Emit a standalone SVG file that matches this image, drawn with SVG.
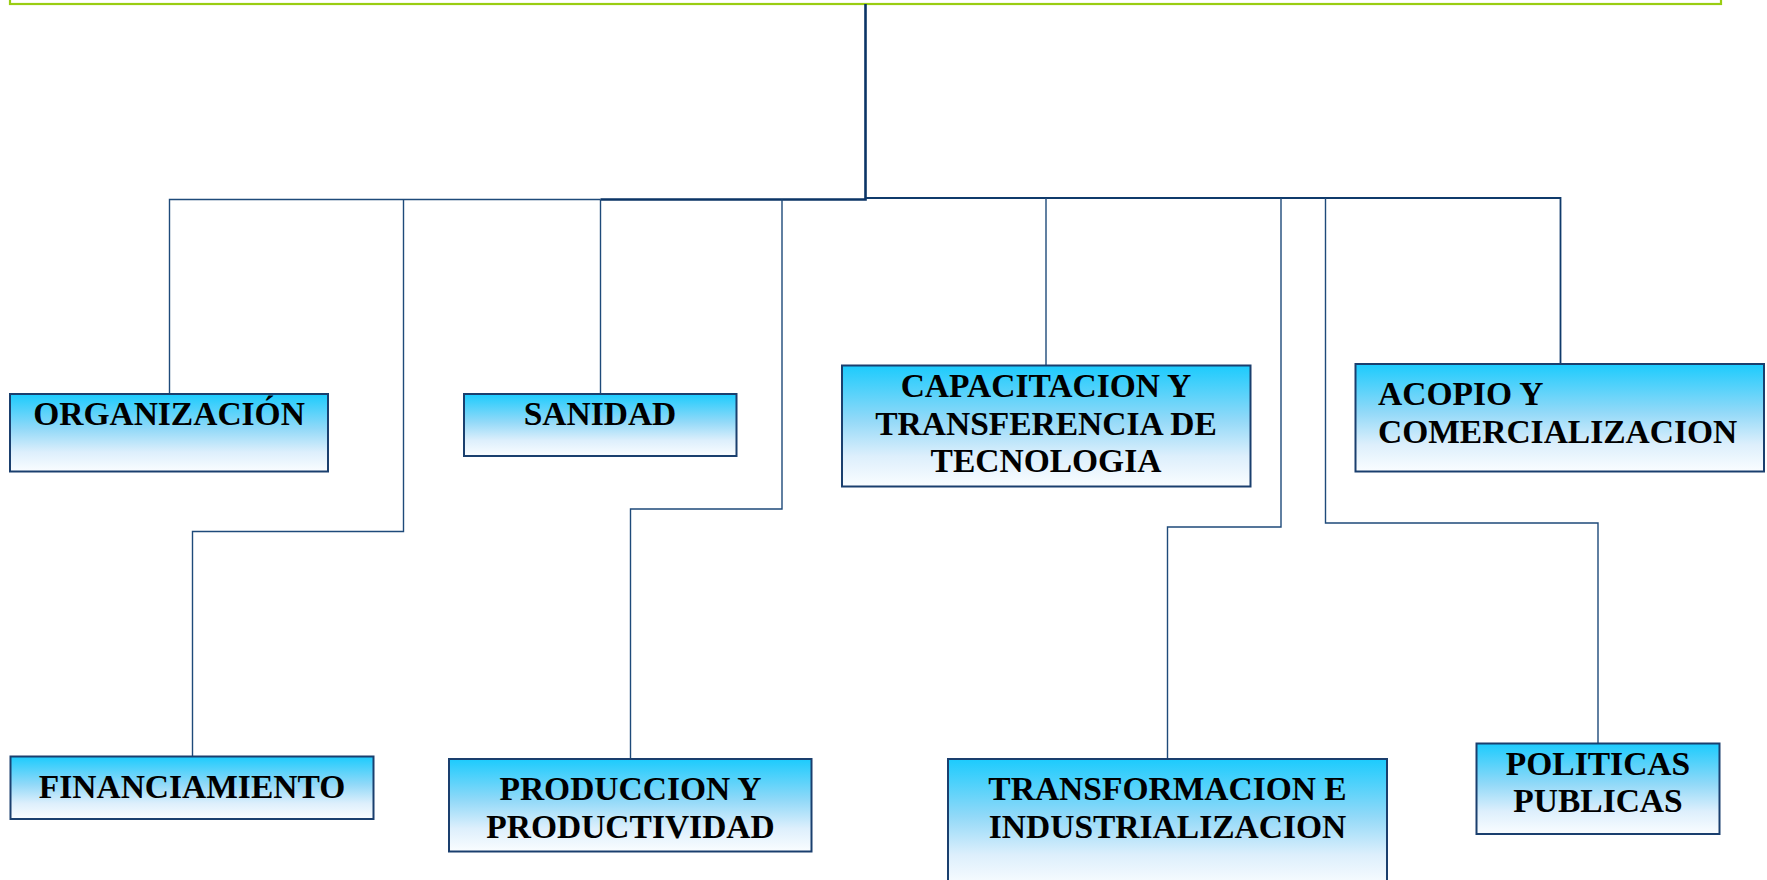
<svg xmlns="http://www.w3.org/2000/svg" width="1767" height="880" viewBox="0 0 1767 880">
<defs>
<linearGradient id="boxgrad" x1="0" y1="0" x2="0" y2="1">
<stop offset="0" stop-color="#1CCBFD"/>
<stop offset="0.45" stop-color="#92D9F8"/>
<stop offset="0.75" stop-color="#DDEFFC"/>
<stop offset="1" stop-color="#FAFDFF"/>
</linearGradient>
<style>
.box{fill:url(#boxgrad);stroke:#1A3F6E;stroke-width:2}
.lbl{font-family:"Liberation Serif","Times New Roman",serif;font-weight:bold;font-size:33.5px;fill:#000}
.c{text-anchor:middle}
.conn{fill:none;stroke:#1E4A7A;stroke-width:1.4}
.trunk{fill:none;stroke:#0B3566;stroke-width:2.6}
</style>
</defs>
<rect width="1767" height="880" fill="#fff"/>
<g id="root">
<rect x="10" y="-60" width="1711" height="64" fill="#fff" stroke="#9ACD12" stroke-width="2.2"/>
</g>
<g id="connectors">
<path class="trunk" d="M865.5 4 V199.5 H600.5"/>
<path class="conn" d="M600.5 199.5 H169.5 V394"/>
<path class="conn" d="M600.5 199.5 V394"/>
<path class="conn" d="M403.5 199.5 V531.5 H192.5 V756.5"/>
<path class="conn" d="M782 199.5 V509 H630.5 V759"/>
<path class="conn" style="stroke-width:1.8;stroke:#0F3A6B" d="M865.5 198 H1560.5 V364"/>
<path class="conn" d="M1046 198 V365.5"/>
<path class="conn" d="M1281 198 V527 H1167.5 V759"/>
<path class="conn" d="M1325.5 198 V523 H1598 V743.5"/>
</g>
<g id="organizacion">
<rect class="box" x="10" y="394" width="318" height="77.5"/>
<text class="lbl c" x="169" y="425">ORGANIZACIÓN</text>
</g>
<g id="sanidad">
<rect class="box" x="464" y="394" width="272.5" height="62"/>
<text class="lbl c" x="600" y="425">SANIDAD</text>
</g>
<g id="capacitacion">
<rect class="box" x="842" y="365.5" width="408.5" height="121"/>
<text class="lbl c" x="1046" y="397">CAPACITACION Y</text>
<text class="lbl c" x="1046" y="434.5">TRANSFERENCIA DE</text>
<text class="lbl c" x="1046" y="472">TECNOLOGIA</text>
</g>
<g id="acopio">
<rect class="box" x="1355.5" y="364" width="408.5" height="107.5"/>
<text class="lbl" x="1378" y="404.5">ACOPIO Y</text>
<text class="lbl" x="1378" y="442.5">COMERCIALIZACION</text>
</g>
<g id="financiamiento">
<rect class="box" x="10.5" y="756.5" width="363" height="62.5"/>
<text class="lbl c" x="192" y="797.5">FINANCIAMIENTO</text>
</g>
<g id="produccion">
<rect class="box" x="449" y="759" width="362.5" height="92.5"/>
<text class="lbl c" x="630.5" y="799.5">PRODUCCION Y</text>
<text class="lbl c" x="630.5" y="837.5">PRODUCTIVIDAD</text>
</g>
<g id="transformacion">
<rect class="box" x="948" y="759" width="439" height="128"/>
<text class="lbl c" x="1167.5" y="800">TRANSFORMACION E</text>
<text class="lbl c" x="1167.5" y="838">INDUSTRIALIZACION</text>
</g>
<g id="politicas">
<rect class="box" x="1476.5" y="743.5" width="243" height="90.5"/>
<text class="lbl c" x="1598" y="774.5">POLITICAS</text>
<text class="lbl c" x="1598" y="812">PUBLICAS</text>
</g>
</svg>
